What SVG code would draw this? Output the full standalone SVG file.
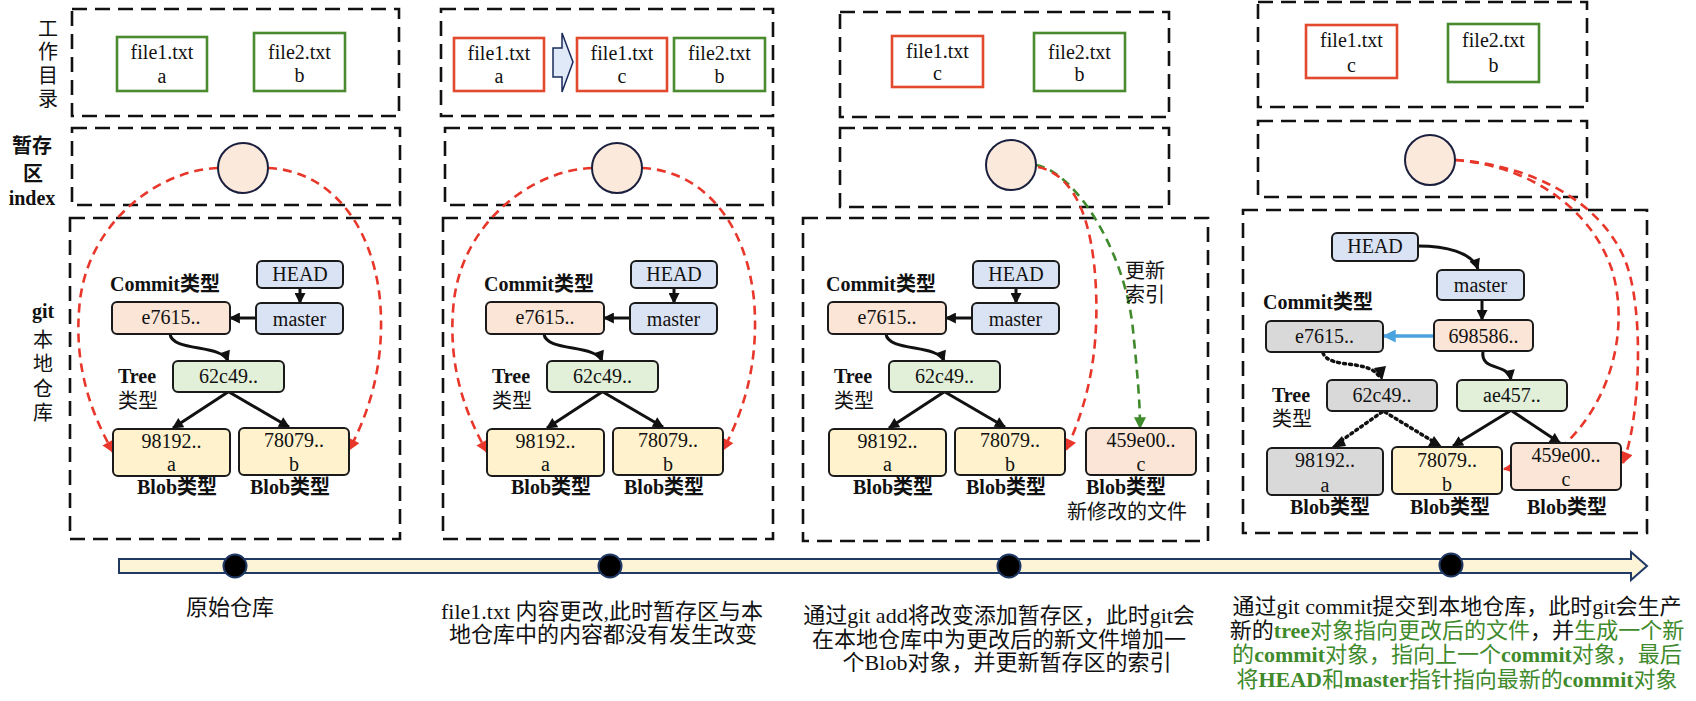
<svg xmlns="http://www.w3.org/2000/svg" width="1696" height="701" viewBox="0 0 1696 701">
<style>
.bg{fill:#fff}
.cont{fill:none;stroke:#111;stroke-width:2.6;stroke-dasharray:15 8}
.fbox{fill:#fff;stroke-width:2.6}
.fr{stroke:#e2492d}
.fg{stroke:#4b8b2f}
.node{stroke:#1a1a1a;stroke-width:2}
.head{fill:#dae3f3}
.cm{fill:#fbe5d6}
.tr{fill:#e2f0d9}
.bl{fill:#fff2cc}
.gr{fill:#d9d9d9}
.idx{fill:#fbe9dc;stroke:#1a1f3d;stroke-width:2}
.t{font-family:"Liberation Serif","Noto Sans CJK SC",serif;font-size:20px;fill:#111;text-anchor:middle}
.s{text-anchor:start}
.b{font-weight:bold}
.cj{font-family:"Noto Sans CJK SC",sans-serif;font-size:20px;fill:#111;text-anchor:middle}
.vt{writing-mode:vertical-rl}
.cap{font-family:"Liberation Serif","Noto Sans CJK SC",serif;font-size:22px;fill:#111;text-anchor:middle}
.gn{fill:#3f8a2c}
.blk{fill:none;stroke:#111;stroke-width:3}
.dot{fill:none;stroke:#111;stroke-width:3.5;stroke-dasharray:2 4;stroke-linecap:round}
.red{fill:none;stroke:#e8372a;stroke-width:2.6;stroke-dasharray:9 6}
.grn{fill:none;stroke:#3f8a2c;stroke-width:2.6;stroke-dasharray:9 6}
.blu{fill:none;stroke:#4aa3df;stroke-width:3.5}
</style>
<defs>
<marker id="ab" viewBox="0 0 10 10" refX="9" refY="5" markerWidth="12" markerHeight="11" markerUnits="userSpaceOnUse" orient="auto"><path d="M0,0 L10,5 L0,10 z" fill="#111"/></marker>
<marker id="ar" viewBox="0 0 10 10" refX="9" refY="5" markerWidth="13" markerHeight="12" markerUnits="userSpaceOnUse" orient="auto"><path d="M0,0 L10,5 L0,10 z" fill="#e8372a"/></marker>
<marker id="ag" viewBox="0 0 10 10" refX="9" refY="5" markerWidth="13" markerHeight="12" markerUnits="userSpaceOnUse" orient="auto"><path d="M0,0 L10,5 L0,10 z" fill="#3f8a2c"/></marker>
<marker id="abl" viewBox="0 0 10 10" refX="9" refY="5" markerWidth="13" markerHeight="13" markerUnits="userSpaceOnUse" orient="auto"><path d="M0,0 L10,5 L0,10 z" fill="#4aa3df"/></marker>
</defs>
<rect class="bg" x="0" y="0" width="1696" height="701"/>

<!-- side labels -->
<g id="side-labels">
<text class="cj vt" x="48" y="65" font-size="21" letter-spacing="3.5">工作目录</text>
<text class="cj b" font-size="18" x="32" y="153">暂存</text>
<text class="cj b" font-size="18" x="33" y="181">区</text>
<text class="t b" font-size="21" x="32" y="205">index</text>
<text class="t b" font-size="21" x="43" y="318">git</text>
<text class="cj vt" x="43" y="378" font-size="21" letter-spacing="4.5">本地仓库</text>
</g>

<!-- containers -->
<g id="containers">
<rect class="cont" x="72" y="9" width="327" height="107"/>
<rect class="cont" x="72" y="128" width="328" height="77"/>
<rect class="cont" x="70" y="218" width="330" height="321"/>
<rect class="cont" x="441" y="9" width="332" height="107"/>
<rect class="cont" x="445" y="128" width="328" height="77"/>
<rect class="cont" x="443" y="218" width="330" height="321"/>
<rect class="cont" x="840" y="12" width="329" height="105"/>
<rect class="cont" x="840" y="128" width="329" height="79"/>
<rect class="cont" x="803" y="218" width="405" height="323"/>
<rect class="cont" x="1258" y="2" width="329" height="105"/>
<rect class="cont" x="1258" y="121" width="329" height="76"/>
<rect class="cont" x="1243" y="210" width="404" height="323"/>
</g>

<!-- timeline -->
<g id="timeline">
<polygon points="119,559 1631,559 1631,552 1647,566 1631,580 1631,573 119,573" fill="#fdf4d7" stroke="#1f3864" stroke-width="2"/>
<circle cx="235" cy="566" r="11.5" fill="#000" stroke="#1f3864" stroke-width="2"/>
<circle cx="610" cy="566" r="11.5" fill="#000" stroke="#1f3864" stroke-width="2"/>
<circle cx="1009" cy="566" r="11.5" fill="#000" stroke="#1f3864" stroke-width="2"/>
<circle cx="1451" cy="565" r="11.5" fill="#000" stroke="#1f3864" stroke-width="2"/>
</g>

<!-- connectors -->
<g id="connectors">
<g id="conn-p1">
<path class="blk" d="M300,288 L300,303" marker-end="url(#ab)"/>
<path class="blk" d="M256,318 L230,318" marker-end="url(#ab)"/>
<path class="blk" d="M170,334 C172,352 222,344 228,361" marker-end="url(#ab)"/>
<path class="blk" d="M228,392 L173,428" marker-end="url(#ab)"/>
<path class="blk" d="M229,392 L289,427" marker-end="url(#ab)"/>
<path class="red" d="M218,168 C160,170 90,220 80,300 C72,370 95,420 113,452" marker-end="url(#ar)"/>
<path class="red" d="M268,168 C326,170 372,220 380,300 C386,370 365,420 349,450" marker-end="url(#ar)"/>
</g>
<g id="conn-p2" transform="translate(374,0)">
<path class="blk" d="M300,288 L300,303" marker-end="url(#ab)"/>
<path class="blk" d="M256,318 L230,318" marker-end="url(#ab)"/>
<path class="blk" d="M170,334 C172,352 222,344 228,361" marker-end="url(#ab)"/>
<path class="blk" d="M228,392 L173,428" marker-end="url(#ab)"/>
<path class="blk" d="M229,392 L289,427" marker-end="url(#ab)"/>
<path class="red" d="M218,168 C160,170 90,220 80,300 C72,370 95,420 113,452" marker-end="url(#ar)"/>
<path class="red" d="M268,168 C326,170 372,220 380,300 C386,370 365,420 349,450" marker-end="url(#ar)"/>
</g>
<g id="conn-p3">
<g transform="translate(716,0)">
<path class="blk" d="M300,288 L300,303" marker-end="url(#ab)"/>
<path class="blk" d="M256,318 L230,318" marker-end="url(#ab)"/>
<path class="blk" d="M170,334 C172,352 222,344 228,361" marker-end="url(#ab)"/>
<path class="blk" d="M228,392 L173,428" marker-end="url(#ab)"/>
<path class="blk" d="M229,392 L289,427" marker-end="url(#ab)"/>
</g>
<path class="grn" d="M1036,165 C1075,172 1125,250 1133,330 C1137,370 1140,400 1140,428" marker-end="url(#ag)"/>
<path class="red" d="M1038,167 C1075,175 1093,220 1096,290 C1099,360 1085,410 1066,450" marker-end="url(#ar)"/>
</g>
<g id="conn-p4">
<path class="blk" d="M1418,246 C1445,246 1472,252 1478,269" marker-end="url(#ab)"/>
<path class="blk" d="M1482,300 L1482,320" marker-end="url(#ab)"/>
<path class="blu" d="M1434,336 L1384,336" marker-end="url(#abl)"/>
<path class="blk" d="M1483,351 C1480,372 1508,362 1511,380" marker-end="url(#ab)"/>
<path class="dot" d="M1323,353 C1330,370 1370,358 1380,378"/>
<path d="M1374,368 L1382,381 L1386,366 z" fill="#111"/>
<path class="dot" d="M1382,412 L1338,443"/>
<path d="M1342,436 L1331,448 L1346,446 z" fill="#111"/>
<path class="dot" d="M1385,412 L1434,442"/>
<path d="M1428,446 L1442,447 L1434,436 z" fill="#111"/>
<path class="blk" d="M1510,411 L1453,446" marker-end="url(#ab)"/>
<path class="blk" d="M1512,411 L1560,443" marker-end="url(#ab)"/>
<path class="red" d="M1455,160 C1530,165 1600,200 1625,260 C1645,310 1640,420 1623,463" marker-end="url(#ar)"/>
<path class="red" d="M1455,160 C1525,165 1590,205 1612,270 C1630,330 1610,400 1567,442 C1545,458 1525,466 1504,469" marker-end="url(#ar)"/>
</g>
</g>

<!-- panel 1 -->
<g id="p1-file1"><rect class="fbox fg" x="117" y="37" width="90" height="54"/><text class="t" x="162" y="59">file1.txt</text><text class="t" x="162" y="83">a</text></g>
<g id="p1-file2"><rect class="fbox fg" x="254" y="33" width="91" height="58"/><text class="t" x="299.5" y="59">file2.txt</text><text class="t" x="299.5" y="82">b</text></g>
<g id="p1-index"><circle class="idx" cx="243" cy="168" r="25"/></g>
<g id="p1-repo">
<g id="p1-head"><rect class="node head" x="257" y="261" width="86" height="27" rx="5"/><text class="t" x="300" y="281">HEAD</text></g>
<g id="p1-master"><rect class="node head" x="256" y="303" width="87" height="31" rx="5"/><text class="t" x="299.5" y="326">master</text></g>
<g id="p1-commit"><rect class="node cm" x="112" y="302" width="118" height="32" rx="5"/><text class="t" x="171" y="324">e7615..</text></g>
<g id="p1-tree"><rect class="node tr" x="173" y="361" width="111" height="31" rx="5"/><text class="t" x="228.5" y="383">62c49..</text></g>
<g id="p1-blob1"><rect class="node bl" x="113" y="429" width="117" height="47" rx="5"/><text class="t" x="171.5" y="448">98192..</text><text class="t" x="171.5" y="471">a</text></g>
<g id="p1-blob2"><rect class="node bl" x="239" y="428" width="110" height="47" rx="5"/><text class="t" x="294" y="447">78079..</text><text class="t" x="294" y="471">b</text></g>
<g id="p1-labels">
<text class="t b s" x="110" y="291">Commit类型</text>
<text class="t s"><tspan x="118" y="383" font-weight="bold">Tree</tspan><tspan x="118" y="408">类型</tspan></text>
<text class="t b" x="177" y="494">Blob类型</text>
<text class="t b" x="290" y="494">Blob类型</text>
</g>
</g>

<!-- panel 2 -->
<g id="p2-file1a"><rect class="fbox fr" x="454" y="38" width="90" height="53"/><text class="t" x="499" y="60">file1.txt</text><text class="t" x="499" y="83">a</text></g>
<g id="p2-change"><polygon points="553,48 562,48 562,33 573,62 562,92 562,77 553,77" fill="#dfe9f7" stroke="#1a2a5a" stroke-width="1.5"/></g>
<g id="p2-file1c"><rect class="fbox fr" x="577" y="38" width="90" height="53"/><text class="t" x="622" y="60">file1.txt</text><text class="t" x="622" y="83">c</text></g>
<g id="p2-file2"><rect class="fbox fg" x="674" y="38" width="91" height="53"/><text class="t" x="719.5" y="60">file2.txt</text><text class="t" x="719.5" y="83">b</text></g>
<g id="p2-index"><circle class="idx" cx="617" cy="168" r="25"/></g>
<g id="p2-repo" transform="translate(374,0)">
<g id="p2-head"><rect class="node head" x="257" y="261" width="86" height="27" rx="5"/><text class="t" x="300" y="281">HEAD</text></g>
<g id="p2-master"><rect class="node head" x="256" y="303" width="87" height="31" rx="5"/><text class="t" x="299.5" y="326">master</text></g>
<g id="p2-commit"><rect class="node cm" x="112" y="302" width="118" height="32" rx="5"/><text class="t" x="171" y="324">e7615..</text></g>
<g id="p2-tree"><rect class="node tr" x="173" y="361" width="111" height="31" rx="5"/><text class="t" x="228.5" y="383">62c49..</text></g>
<g id="p2-blob1"><rect class="node bl" x="113" y="429" width="117" height="47" rx="5"/><text class="t" x="171.5" y="448">98192..</text><text class="t" x="171.5" y="471">a</text></g>
<g id="p2-blob2"><rect class="node bl" x="239" y="428" width="110" height="47" rx="5"/><text class="t" x="294" y="447">78079..</text><text class="t" x="294" y="471">b</text></g>
<g id="p2-labels">
<text class="t b s" x="110" y="291">Commit类型</text>
<text class="t s"><tspan x="118" y="383" font-weight="bold">Tree</tspan><tspan x="118" y="408">类型</tspan></text>
<text class="t b" x="177" y="494">Blob类型</text>
<text class="t b" x="290" y="494">Blob类型</text>
</g>
</g>

<!-- panel 3 -->
<g id="p3-file1"><rect class="fbox fr" x="892" y="36" width="91" height="51"/><text class="t" x="937.5" y="58">file1.txt</text><text class="t" x="937.5" y="80">c</text></g>
<g id="p3-file2"><rect class="fbox fg" x="1034" y="33" width="91" height="58"/><text class="t" x="1079.5" y="59">file2.txt</text><text class="t" x="1079.5" y="81">b</text></g>
<g id="p3-index"><circle class="idx" cx="1011" cy="165" r="25"/></g>
<g id="p3-repo" transform="translate(716,0)">
<g id="p3-head"><rect class="node head" x="257" y="261" width="86" height="27" rx="5"/><text class="t" x="300" y="281">HEAD</text></g>
<g id="p3-master"><rect class="node head" x="256" y="303" width="87" height="31" rx="5"/><text class="t" x="299.5" y="326">master</text></g>
<g id="p3-commit"><rect class="node cm" x="112" y="302" width="118" height="32" rx="5"/><text class="t" x="171" y="324">e7615..</text></g>
<g id="p3-tree"><rect class="node tr" x="173" y="361" width="111" height="31" rx="5"/><text class="t" x="228.5" y="383">62c49..</text></g>
<g id="p3-blob1"><rect class="node bl" x="113" y="429" width="117" height="47" rx="5"/><text class="t" x="171.5" y="448">98192..</text><text class="t" x="171.5" y="471">a</text></g>
<g id="p3-blob2"><rect class="node bl" x="239" y="428" width="110" height="47" rx="5"/><text class="t" x="294" y="447">78079..</text><text class="t" x="294" y="471">b</text></g>
<g id="p3-labels">
<text class="t b s" x="110" y="291">Commit类型</text>
<text class="t s"><tspan x="118" y="383" font-weight="bold">Tree</tspan><tspan x="118" y="408">类型</tspan></text>
<text class="t b" x="177" y="494">Blob类型</text>
<text class="t b" x="290" y="494">Blob类型</text>
</g>
</g>
<g id="p3-blob3"><rect class="node cm" x="1086" y="428" width="110" height="47" rx="5"/><text class="t" x="1141" y="447">459e00..</text><text class="t" x="1141" y="471">c</text>
<text class="t"><tspan x="1126" y="494" font-weight="bold">Blob类型</tspan><tspan x="1127" y="519">新修改的文件</tspan></text></g>
<g id="p3-update-label"><text class="t"><tspan x="1145" y="278">更新</tspan><tspan x="1145" y="302">索引</tspan></text></g>

<!-- panel 4 -->
<g id="p4-file1"><rect class="fbox fr" x="1306" y="25" width="91" height="53"/><text class="t" x="1351.5" y="47">file1.txt</text><text class="t" x="1351.5" y="72">c</text></g>
<g id="p4-file2"><rect class="fbox fg" x="1448" y="24" width="91" height="58"/><text class="t" x="1493.5" y="47">file2.txt</text><text class="t" x="1493.5" y="72">b</text></g>
<g id="p4-index"><circle class="idx" cx="1430" cy="160" r="25"/></g>
<g id="p4-head"><rect class="node head" x="1332" y="233" width="86" height="28" rx="5"/><text class="t" x="1375" y="253">HEAD</text></g>
<g id="p4-master"><rect class="node head" x="1437" y="270" width="87" height="30" rx="5"/><text class="t" x="1480.5" y="292">master</text></g>
<g id="p4-commit-new"><rect class="node cm" x="1434" y="320" width="99" height="31" rx="5"/><text class="t" x="1483.5" y="343">698586..</text></g>
<g id="p4-commit-old"><rect class="node gr" x="1266" y="321" width="117" height="31" rx="5"/><text class="t" x="1324.5" y="343">e7615..</text></g>
<g id="p4-tree-old"><rect class="node gr" x="1327" y="380" width="110" height="31" rx="5"/><text class="t" x="1382" y="402">62c49..</text></g>
<g id="p4-tree-new"><rect class="node tr" x="1457" y="380" width="110" height="31" rx="5"/><text class="t" x="1512" y="402">ae457..</text></g>
<g id="p4-blob1"><rect class="node gr" x="1267" y="448" width="116" height="47" rx="5"/><text class="t" x="1325" y="467">98192..</text><text class="t" x="1325" y="492">a</text></g>
<g id="p4-blob2"><rect class="node bl" x="1392" y="447" width="110" height="47" rx="5"/><text class="t" x="1447" y="467">78079..</text><text class="t" x="1447" y="491">b</text></g>
<g id="p4-blob3"><rect class="node cm" x="1511" y="443" width="110" height="47" rx="5"/><text class="t" x="1566" y="462">459e00..</text><text class="t" x="1566" y="486">c</text></g>
<g id="p4-labels">
<text class="t b s" x="1263" y="309">Commit类型</text>
<text class="t s"><tspan x="1272" y="402" font-weight="bold">Tree</tspan><tspan x="1272" y="426">类型</tspan></text>
<text class="t b" x="1330" y="514">Blob类型</text>
<text class="t b" x="1450" y="514">Blob类型</text>
<text class="t b" x="1567" y="514">Blob类型</text>
</g>

<!-- captions -->
<g id="captions">
<text class="cap" x="230" y="615">原始仓库</text>
<text class="cap"><tspan x="602" y="619">file1.txt 内容更改,此时暂存区与本</tspan><tspan x="603" y="642">地仓库中的内容都没有发生改变</tspan></text>
<text class="cap"><tspan x="999" y="623">通过git add将改变添加暂存区，此时git会</tspan><tspan x="999" y="647">在本地仓库中为更改后的新文件增加一</tspan><tspan x="1007" y="670">个Blob对象，并更新暂存区的索引</tspan></text>
<text class="cap"><tspan x="1457" y="614">通过git commit提交到本地仓库，此时git会生产</tspan><tspan x="1457" y="638">新的</tspan><tspan class="gn" font-weight="bold">tree</tspan><tspan class="gn">对象指向更改后的文件</tspan><tspan>，并</tspan><tspan class="gn">生成一个新</tspan><tspan class="gn" x="1457" y="662">的</tspan><tspan class="gn" font-weight="bold">commit</tspan><tspan class="gn">对象，指向上一个</tspan><tspan class="gn" font-weight="bold">commit</tspan><tspan class="gn">对象，最后</tspan><tspan class="gn" x="1457" y="687">将</tspan><tspan class="gn" font-weight="bold">HEAD</tspan><tspan class="gn">和</tspan><tspan class="gn" font-weight="bold">master</tspan><tspan class="gn">指针指向最新的</tspan><tspan class="gn" font-weight="bold">commit</tspan><tspan class="gn">对象</tspan></text>
</g>
</svg>
